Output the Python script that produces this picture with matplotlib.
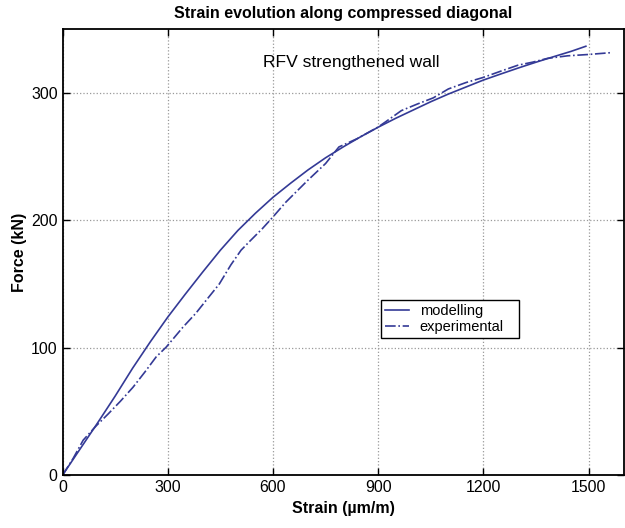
import numpy as np
import matplotlib
matplotlib.use("Agg")
import matplotlib.pyplot as plt

plt.rcParams["font.family"] = ["Liberation Sans", "DejaVu Sans"]

# modelling curve (strain in µm/m, force in kN)
model_strain = [0, 50, 100, 150, 200, 250, 300, 350, 400, 450, 500, 550, 600, 650, 700, 750, 800, 850,
                900, 950, 1000, 1050, 1100, 1150, 1200, 1250, 1300, 1350, 1400, 1450, 1492]
model_force = [0, 20.5, 41, 62, 84, 104.5, 124, 142, 159.5, 176.5, 192, 205.5, 218, 229, 239.5, 249, 257.5, 265.5,
               273, 280, 286.5, 293, 299, 304.5, 310, 314.8, 319.5, 324, 328.3, 332.5, 336.5]

# experimental curve
exp_strain = [0, 30, 59, 97, 130, 165, 201, 235, 267, 296, 343, 380, 409, 447, 480, 509, 532, 570, 600, 636,
              698, 750, 788, 840, 899, 920, 966, 1010, 1057, 1100, 1150, 1199, 1250, 1298, 1340, 1383, 1440, 1497, 1565]
exp_force = [0, 13, 27.5, 39, 48, 58, 69, 81, 92.8, 100.6, 116, 127, 137, 150, 165, 176.5, 183, 193.5, 202.6, 214,
             231, 244.5, 257.5, 264, 273, 277, 286, 291, 296, 303, 308, 312, 317, 321.6, 324, 327, 329, 330, 331.5]

x_ticks = [0, 300, 600, 900, 1200, 1500]
y_ticks = [0, 100, 200, 300]

line_color = "#343a96"

fig = plt.figure(figsize=(6.25, 5.28), dpi=100)
ax = fig.add_axes([0.1, 0.1, 0.898, 0.845])

ax.plot(model_strain, model_force, color=line_color, lw=1.2, label="modelling")
ax.plot(exp_strain, exp_force, color=line_color, lw=1.2, ls="-.", label="experimental")

ax.set_xlim(0, 1600)
ax.set_ylim(0, 350)
ax.set_xticks(x_ticks)
ax.set_yticks(y_ticks)
ax.grid(True, color="#999999", ls=":", lw=0.9)
ax.tick_params(direction="in", top=True, right=True, length=5, width=1, labelsize=11.4)
for s in ax.spines.values():
    s.set_linewidth(1.3)

ax.set_title("Strain evolution along compressed diagonal", fontsize=11.5, fontweight="bold", pad=8)
ax.set_xlabel("Strain (µm/m)", fontsize=11.5, fontweight="bold")
ax.set_ylabel("Force (kN)", fontsize=11.5, fontweight="bold", labelpad=3)

ax.text(824, 324, "RFV strengthened wall", fontsize=12.6, ha="center", va="center")

leg = ax.legend(loc="upper left", bbox_to_anchor=(0.5675, 0.31, 0.246, 0.083), mode="expand",
                borderaxespad=0, fancybox=False, edgecolor="black", framealpha=1, fontsize=10.5,
                borderpad=0.3, handlelength=1.65, handletextpad=0.7, labelspacing=0.1)
leg.get_frame().set_linewidth(1.0)

fig.savefig("out.png", dpi=100)
